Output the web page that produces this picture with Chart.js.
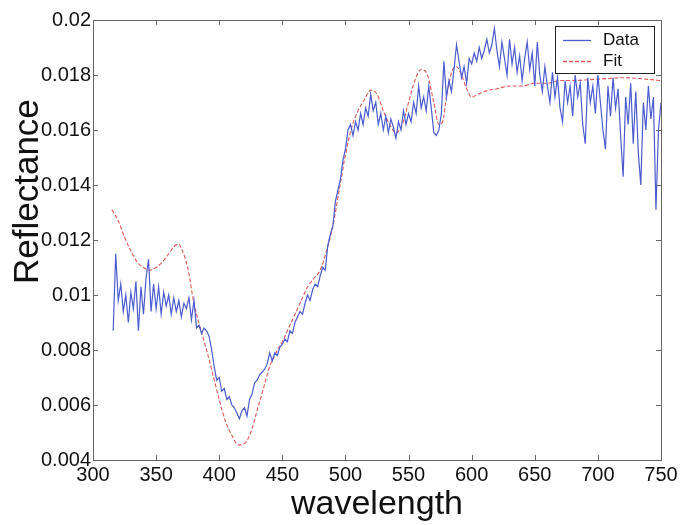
<!DOCTYPE html>
<html>
<head>
<meta charset="utf-8">
<script src="https://cdn.jsdelivr.net/npm/chart.js@4"></script>
<style>
  html, body { margin: 0; padding: 0; background: #fff; }
  canvas { display: block; }
</style>
</head>
<body>
<canvas id="c" width="683" height="525"></canvas>
<script>
// Measured spectrum, sampled every 2 nm
const wavelength = [
  316, 318, 320, 322, 324, 326, 328, 330, 332, 334,
  336, 338, 340, 342, 344, 346, 348, 350, 352, 354,
  356, 358, 360, 362, 364, 366, 368, 370, 372, 374,
  376, 378, 380, 382, 384, 386, 388, 390, 392, 394,
  396, 398, 400, 402, 404, 406, 408, 410, 412, 414,
  416, 418, 420, 422, 424, 426, 428, 430, 432, 434,
  436, 438, 440, 442, 444, 446, 448, 450, 452, 454,
  456, 458, 460, 462, 464, 466, 468, 470, 472, 474,
  476, 478, 480, 482, 484, 486, 488, 490, 492, 494,
  496, 498, 500, 502, 504, 506, 508, 510, 512, 514,
  516, 518, 520, 522, 524, 526, 528, 530, 532, 534,
  536, 538, 540, 542, 544, 546, 548, 550, 552, 554,
  556, 558, 560, 562, 564, 566, 568, 570, 572, 574,
  576, 578, 580, 582, 584, 586, 588, 590, 592, 594,
  596, 598, 600, 602, 604, 606, 608, 610, 612, 614,
  616, 618, 620, 622, 624, 626, 628, 630, 632, 634,
  636, 638, 640, 642, 644, 646, 648, 650, 652, 654,
  656, 658, 660, 662, 664, 666, 668, 670, 672, 674,
  676, 678, 680, 682, 684, 686, 688, 690, 692, 694,
  696, 698, 700, 702, 704, 706, 708, 710, 712, 714,
  716, 718, 720, 722, 724, 726, 728, 730, 732, 734,
  736, 738, 740, 742, 744, 746, 748, 750
];
const reflectance = [
  0.0087, 0.0115, 0.0098, 0.0104, 0.0094, 0.0100, 0.0090, 0.0101, 0.0095, 0.0105,
  0.0087, 0.0103, 0.0093, 0.0106, 0.0113, 0.0094, 0.0104, 0.0095, 0.0103, 0.0093,
  0.0101, 0.0096, 0.0100, 0.0093, 0.0099, 0.0094, 0.0098, 0.0092, 0.0097, 0.0095,
  0.0099, 0.0091, 0.0098, 0.0088, 0.0089, 0.0086, 0.0088, 0.0087, 0.0085, 0.0080,
  0.0074, 0.0069, 0.0070, 0.0065, 0.0066, 0.0062, 0.0063, 0.0060, 0.0059, 0.0057,
  0.0055, 0.0058, 0.0059, 0.0056, 0.0062, 0.0064, 0.0068, 0.0069, 0.0071, 0.0072,
  0.0073, 0.0075, 0.0079, 0.0076, 0.0079, 0.0078, 0.0081, 0.0082, 0.0084, 0.0083,
  0.0087, 0.0086, 0.0090, 0.0092, 0.0094, 0.0093, 0.0097, 0.0100, 0.0098, 0.0102,
  0.0104, 0.0103, 0.0107, 0.0110, 0.0109, 0.0118, 0.0122, 0.0125, 0.0134, 0.0138,
  0.0142, 0.0149, 0.0153, 0.0160, 0.0162, 0.0158, 0.0163, 0.0160, 0.0166, 0.0162,
  0.0168, 0.0165, 0.0173, 0.0167, 0.0170, 0.0162, 0.0166, 0.0160, 0.0165, 0.0159,
  0.0164, 0.0161, 0.0157, 0.0163, 0.0160, 0.0167, 0.0162, 0.0166, 0.0163, 0.0170,
  0.0166, 0.0176, 0.0168, 0.0172, 0.0167, 0.0176, 0.0168, 0.0159, 0.0158, 0.0160,
  0.0166, 0.0185, 0.0172, 0.0178, 0.0174, 0.0182, 0.0191, 0.0185, 0.0179, 0.0183,
  0.0177, 0.0186, 0.0184, 0.0188, 0.0185, 0.0190, 0.0186, 0.0189, 0.0193, 0.0188,
  0.0191, 0.0197, 0.0189, 0.0183, 0.0192, 0.0186, 0.0180, 0.0193, 0.0184, 0.0190,
  0.0181, 0.0187, 0.0178, 0.0186, 0.0192, 0.0182, 0.0188, 0.0176, 0.0192, 0.0180,
  0.0174, 0.0183, 0.0176, 0.0170, 0.0181, 0.0172, 0.0179, 0.0168, 0.0163, 0.0178,
  0.0170, 0.0176, 0.0165, 0.0180, 0.0172, 0.0177, 0.0162, 0.0155, 0.0179, 0.0170,
  0.0176, 0.0166, 0.0180, 0.0170, 0.0160, 0.0153, 0.0176, 0.0165, 0.0179, 0.0168,
  0.0175, 0.0158, 0.0143, 0.0172, 0.0162, 0.0177, 0.0155, 0.0174, 0.0152, 0.0140,
  0.0170, 0.0160, 0.0176, 0.0164, 0.0172, 0.0131, 0.0160, 0.0170
];

// Model fit
const fitWavelength = [
  315, 320, 325, 330, 335, 340, 345, 350, 355, 360,
  365, 368, 370, 375, 380, 385, 390, 395, 400, 405,
  410, 415, 420, 425, 430, 435, 440, 445, 450, 455,
  460, 465, 470, 475, 480, 485, 490, 495, 500, 505,
  510, 515, 520, 525, 530, 535, 540, 545, 550, 555,
  560, 565, 570, 574, 577, 580, 585, 588, 592, 596,
  600, 605, 610, 620, 630, 640, 650, 660, 670, 680,
  700, 720, 750
];
const fitReflectance = [
  0.0131, 0.0127, 0.0121, 0.0116, 0.0112, 0.0110, 0.0109, 0.0110, 0.0112, 0.0115,
  0.0118, 0.01185, 0.0117, 0.0110, 0.0097, 0.0088, 0.0080, 0.0071, 0.0062, 0.0054,
  0.0049, 0.00455, 0.0046, 0.0050, 0.0058, 0.0066, 0.0074, 0.0079, 0.0083, 0.0088,
  0.0093, 0.0098, 0.0103, 0.0106, 0.0109, 0.0116, 0.0125, 0.0138, 0.0151, 0.0161,
  0.0167, 0.0171, 0.01745, 0.0173, 0.0167, 0.0162, 0.0159, 0.0162, 0.0170, 0.0178,
  0.0182, 0.0180, 0.0170, 0.0162, 0.0163, 0.0172, 0.0182, 0.0183, 0.0180, 0.0175,
  0.0172, 0.0173, 0.0174, 0.0175, 0.0176, 0.0176, 0.0177, 0.0177, 0.0178, 0.0178,
  0.01785, 0.0179, 0.0178
];

const xTicks = { min: 300, max: 750, step: 50 };
const yTicks = { min: 0.004, max: 0.02, step: 0.002 };

const FONT = "'Liberation Sans', Arial, sans-serif";
Chart.defaults.font.family = FONT;
Chart.defaults.color = '#111';

const toPoints = (xs, ys) => xs.map((x, i) => ({ x, y: ys[i] }));

// Closed frame with inward tick marks on all four sides
const frame = {
  id: 'frame',
  afterDatasetsDraw(chart) {
    const { ctx, chartArea: a, scales: { x, y } } = chart;
    const len = 5;
    ctx.save();
    ctx.lineWidth = 1;
    ctx.strokeStyle = '#666';
    ctx.strokeRect(a.left + 0.5, a.top + 0.5, a.right - a.left, a.bottom - a.top);
    ctx.beginPath();
    x.ticks.forEach(t => {
      const px = Math.round(x.getPixelForValue(t.value)) + 0.5;
      ctx.moveTo(px, a.bottom); ctx.lineTo(px, a.bottom - len);
      ctx.moveTo(px, a.top); ctx.lineTo(px, a.top + len);
    });
    y.ticks.forEach(t => {
      const py = Math.round(y.getPixelForValue(t.value)) + 0.5;
      ctx.moveTo(a.left, py); ctx.lineTo(a.left + len, py);
      ctx.moveTo(a.right, py); ctx.lineTo(a.right - len, py);
    });
    ctx.stroke();
    ctx.restore();
  }
};

// Vertical axis title, placed a little above the middle of the axis
const yTitle = {
  id: 'yTitle',
  afterDraw(chart) {
    const { ctx, chartArea: a } = chart;
    const t = chart.options.scales.y.title;
    ctx.save();
    ctx.translate(28, a.top + (a.bottom - a.top) * 0.39);
    ctx.rotate(-Math.PI / 2);
    ctx.fillStyle = '#111';
    ctx.font = '35px ' + FONT;
    ctx.textAlign = 'center';
    ctx.textBaseline = 'middle';
    ctx.fillText(t.text, 0, 0);
    ctx.restore();
  }
};

// Boxed legend in the upper right corner of the plot
const legendBox = {
  id: 'legendBox',
  afterDraw(chart) {
    const { ctx, chartArea: a } = chart;
    const w = 99, h = 47;
    const left = a.right - 7 - w, top = a.top + 6;
    ctx.save();
    ctx.fillStyle = '#fff';
    ctx.fillRect(left, top, w, h);
    ctx.strokeStyle = '#222';
    ctx.lineWidth = 1;
    ctx.strokeRect(left + 0.5, top + 0.5, w, h);
    chart.data.datasets.forEach((ds, i) => {
      const yy = top + 14 + i * 21;
      ctx.strokeStyle = ds.borderColor;
      ctx.lineWidth = 1.3;
      ctx.setLineDash(ds.borderDash || []);
      ctx.beginPath();
      ctx.moveTo(left + 8, yy + 0.5);
      ctx.lineTo(left + 36, yy + 0.5);
      ctx.stroke();
      ctx.setLineDash([]);
      ctx.fillStyle = '#111';
      ctx.font = '17px ' + FONT;
      ctx.textBaseline = 'middle';
      ctx.fillText(ds.label, left + 48, yy);
    });
    ctx.restore();
  }
};

new Chart(document.getElementById('c'), {
  type: 'line',
  data: {
    datasets: [
      {
        label: 'Data',
        data: toPoints(wavelength, reflectance),
        borderColor: '#4b5bd0',
        borderWidth: 1.2,
        pointRadius: 0,
        tension: 0
      },
      {
        label: 'Fit',
        data: toPoints(fitWavelength, fitReflectance),
        borderColor: '#e05858',
        borderWidth: 1.1,
        borderDash: [4, 2],
        pointRadius: 0,
        cubicInterpolationMode: 'monotone'
      }
    ]
  },
  options: {
    responsive: false,
    animation: false,
    devicePixelRatio: 1,
    layout: { padding: { top: 20, right: 22, left: 0, bottom: 0 } },
    plugins: { legend: { display: false }, tooltip: { enabled: false } },
    scales: {
      x: {
        type: 'linear',
        min: xTicks.min,
        max: xTicks.max,
        grid: { display: false, drawTicks: false },
        border: { display: false },
        ticks: { stepSize: xTicks.step, padding: 3, font: { size: 20 }, color: '#111', maxRotation: 0 },
        title: { display: true, text: 'wavelength', font: { size: 34 }, color: '#111', padding: { top: 0, bottom: 0 } },
        afterFit(s) { s.height = 65; }
      },
      y: {
        min: yTicks.min,
        max: yTicks.max,
        grid: { display: false, drawTicks: false },
        border: { display: false },
        ticks: {
          stepSize: yTicks.step,
          padding: 2,
          font: { size: 20 },
          color: '#111',
          callback: v => String(parseFloat(v.toFixed(3)))
        },
        title: { display: false, text: 'Reflectance' },
        afterFit(s) { s.width = 93; }
      }
    }
  },
  plugins: [frame, yTitle, legendBox]
});
</script>
</body>
</html>
